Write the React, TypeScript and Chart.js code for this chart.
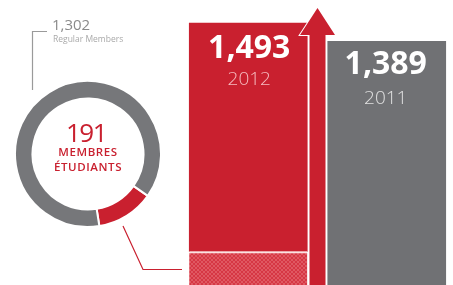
import React, { useEffect, useRef } from "react";
import { Chart, registerables } from "chart.js";
Chart.register(...registerables);

// ---- data ----
const years = ["2012", "2011"];
const totals = [1493, 1389];
const studentMembers = [191, null];
const regularMembers = [1302, null];
const previousYear = [null, 1389];
const donutLabels = ["Membres étudiants", "Regular Members"];
const donutValues = [191, 1302];
const donutCenterLines = ["MEMBRES", "ÉTUDIANTS"];
const regularCaption = "Regular Members";

const RED = "#c9202f";
const GRAY_BAR = "#707174";
const GRAY_RING = "#76777a";
const FONT = "'Open Sans', sans-serif";
const fmt = (v: number) => v.toLocaleString("en-US");

function makeHatch(): CanvasPattern | string {
  const c = document.createElement("canvas");
  c.width = 4;
  c.height = 4;
  const g = c.getContext("2d");
  if (!g) return "#d63a46";
  g.fillStyle = "#d63744";
  g.fillRect(0, 0, 4, 4);
  g.fillStyle = "#e05862";
  for (let i = 0; i < 4; i++) {
    g.fillRect(i, i, 1, 1);
    g.fillRect(3 - i, i, 1, 1);
  }
  const p = g.createPattern(c, "repeat");
  return p || "#d63a46";
}

const decorPlugin = {
  id: "decor",
  afterDatasetsDraw(chart: any) {
    const ctx = chart.ctx as CanvasRenderingContext2D;
    const y = chart.scales.y;
    const m0 = chart.getDatasetMeta(1).data[0];
    const m1 = chart.getDatasetMeta(2).data[1];
    const x0 = m0.x;
    const x1 = m1.x;
    const redTop = y.getPixelForValue(totals[0]);
    const grayTop = y.getPixelForValue(totals[1]);
    const bottom = chart.chartArea.bottom + 5;

    // arrow
    const ax = (x0 + x1) / 2;
    const tip = redTop - 15;
    const base = redTop + 12;
    ctx.save();
    ctx.beginPath();
    ctx.moveTo(ax - 8, bottom);
    ctx.lineTo(ax - 8, base);
    ctx.lineTo(ax - 17.5, base);
    ctx.lineTo(ax, tip);
    ctx.lineTo(ax + 17.5, base);
    ctx.lineTo(ax + 8, base);
    ctx.lineTo(ax + 8, bottom);
    ctx.closePath();
    ctx.fillStyle = RED;
    ctx.strokeStyle = "#fff";
    ctx.lineWidth = 2;
    ctx.lineJoin = "miter";
    ctx.stroke();
    ctx.fill();

    // bar labels
    ctx.textAlign = "center";
    ctx.textBaseline = "alphabetic";
    ctx.fillStyle = "#ffffff";
    ctx.font = `bold 32px ${FONT}`;
    ctx.fillText(fmt(totals[0]), x0 + 1, redTop + 35);
    ctx.fillText(fmt(totals[1]), x1 - 1, grayTop + 33);
    ctx.font = `300 19px ${FONT}`;
    ctx.fillStyle = "#f6bcc0";
    ctx.fillText(years[0], x0 + 1, redTop + 62);
    ctx.fillStyle = "#e0e0e0";
    ctx.fillText(years[1], x1 - 1, grayTop + 63);

    // regular members caption with leader
    ctx.textAlign = "left";
    ctx.fillStyle = "#8a8a8a";
    ctx.font = `400 15px ${FONT}`;
    ctx.fillText(fmt(regularMembers[0] as number), 52, 30);
    ctx.fillStyle = "#a9a9a9";
    ctx.font = `400 8.5px ${FONT}`;
    ctx.fillText(regularCaption, 53, 42);
    ctx.strokeStyle = "#9a9a9a";
    ctx.lineWidth = 1.2;
    ctx.beginPath();
    ctx.moveTo(47, 31.5);
    ctx.lineTo(32.5, 31.5);
    ctx.lineTo(32.5, 90);
    ctx.stroke();

    // student leader line
    ctx.strokeStyle = RED;
    ctx.lineWidth = 1.2;
    ctx.beginPath();
    ctx.moveTo(123, 226);
    ctx.lineTo(143, 269.5);
    ctx.lineTo(182, 269.5);
    ctx.stroke();
    ctx.restore();
  },
};

const centerPlugin = {
  id: "centerText",
  afterDatasetsDraw(chart: any) {
    const ctx = chart.ctx as CanvasRenderingContext2D;
    const arc = chart.getDatasetMeta(0).data[0];
    const cx = arc.x;
    const cy = arc.y;
    ctx.save();
    ctx.textAlign = "center";
    ctx.textBaseline = "alphabetic";
    ctx.fillStyle = RED;
    ctx.font = `400 26px ${FONT}`;
    (ctx as any).letterSpacing = "-1.5px";
    ctx.fillText(String(donutValues[0]), cx - 2, cy - 12);
    ctx.font = `600 11.5px ${FONT}`;
    (ctx as any).letterSpacing = "0.6px";
    ctx.fillText(donutCenterLines[0], cx, cy + 2);
    ctx.fillText(donutCenterLines[1], cx, cy + 17);
    ctx.restore();
  },
};

export default function App() {
  const barRef = useRef<HTMLCanvasElement>(null);
  const donutRef = useRef<HTMLCanvasElement>(null);

  useEffect(() => {
    if (!barRef.current || !donutRef.current) return;
    const hatch = makeHatch();
    const bar = new Chart(barRef.current, {
      type: "bar",
      data: {
        labels: years,
        datasets: [
          {
            label: donutLabels[0],
            data: studentMembers,
            backgroundColor: hatch as any,
            borderColor: "#fbe2e2",
            borderWidth: { top: 2, left: 0, right: 0, bottom: 0 },
            borderSkipped: false,
            stack: "s",
          },
          { label: donutLabels[1], data: regularMembers, backgroundColor: RED, stack: "s" },
          { label: years[1], data: previousYear, backgroundColor: GRAY_BAR, stack: "s" },
        ],
      },
      options: {
        responsive: false,
        animation: false,
        events: [],
        layout: { padding: { left: 179, right: 4, top: 0, bottom: 0 } },
        plugins: { legend: { display: false }, tooltip: { enabled: false } },
        datasets: { bar: { barThickness: 118 } },
        scales: {
          x: { stacked: true, display: false },
          y: { stacked: true, display: false, min: 0, max: 1624 },
        },
      },
      plugins: [decorPlugin],
    } as any);

    const donut = new Chart(donutRef.current, {
      type: "doughnut",
      data: {
        labels: donutLabels,
        datasets: [
          {
            data: donutValues,
            backgroundColor: [RED, GRAY_RING],
            borderColor: "#ffffff",
            borderWidth: 2,
          },
        ],
      },
      options: {
        responsive: false,
        animation: false,
        events: [],
        rotation: 125,
        cutout: "76%",
        layout: { padding: 0 },
        plugins: { legend: { display: false }, tooltip: { enabled: false } },
      },
      plugins: [centerPlugin],
    } as any);

    return () => {
      bar.destroy();
      donut.destroy();
    };
  }, []);

  return (
    <div
      style={{
        position: "fixed",
        left: 0,
        top: 0,
        width: 453,
        height: 285,
        overflow: "hidden",
        background: "#ffffff",
      }}
    >
      <canvas
        ref={barRef}
        width={460}
        height={285}
        style={{ position: "absolute", left: 0, top: 0, width: 460, height: 285 }}
      />
      <canvas
        ref={donutRef}
        width={148}
        height={148}
        style={{ position: "absolute", left: 14, top: 80, width: 148, height: 148 }}
      />
    </div>
  );
}
